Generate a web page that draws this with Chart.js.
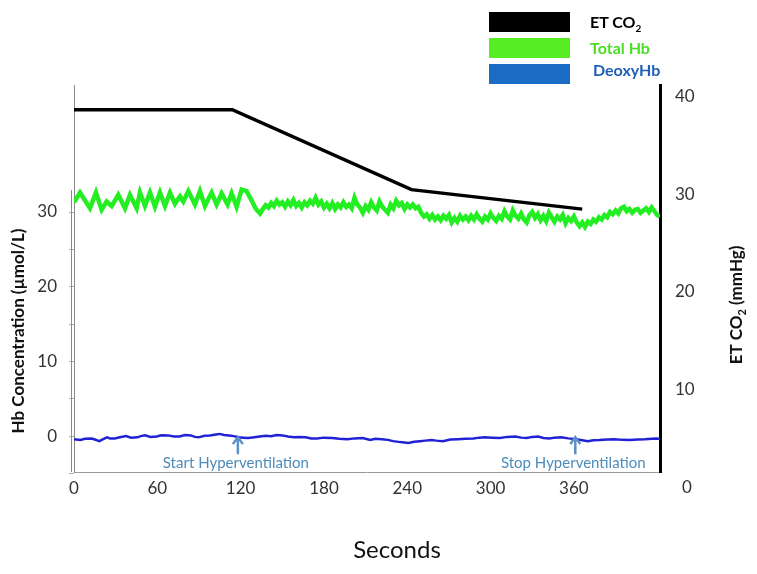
<!DOCTYPE html>
<html>
<head>
<meta charset="utf-8">
<script src="https://cdn.jsdelivr.net/npm/chart.js@4"></script>
<style>
body{margin:0;background:#fff;}
#wrap{position:relative;width:757px;height:574px;}
.key{position:absolute;left:489px;width:81px;height:20px;}
.lbl{position:absolute;font-family:Lato,sans-serif;font-weight:bold;font-size:16px;line-height:20px;}
.lbl sub{font-size:10px;line-height:0;}
</style>
</head>
<body>
<div id="wrap">
  <canvas id="myChart" width="757" height="574"></canvas>
  <div class="key" style="top:12px;background:#000;"></div>
  <div class="key" style="top:38px;background:#55ee22;"></div>
  <div class="key" style="top:64px;background:#1a6cc4;"></div>
  <div class="lbl" style="left:590px;top:12px;color:#000;">ET CO<sub>2</sub></div>
  <div class="lbl" style="left:590px;top:38px;color:#4bdc26;">Total Hb</div>
  <div class="lbl" style="left:593px;top:60px;color:#1f5fb8;">DeoxyHb</div>
</div>
<script>
var xTicks = [0, 60, 120, 180, 240, 300, 360];
var hbTicks = [-5, 0, 5, 10, 15, 20, 25, 30];
var co2Ticks = [10, 20, 30, 40];

// end tidal CO2 (mmHg), right axis
var co2Times = [0, 114, 243, 366];
var etCo2 = [38.7, 38.7, 30.5, 28.5];

// total Hb (umol/L), left axis
var hbTimes = [
  0, 4.3, 11.5, 15.8, 19.9, 23.5, 27.1, 31.9, 36.7, 40.3,
  45.1, 47.5, 51.1, 54.7, 58.3, 61.9, 65.5, 69.1, 72.7, 76.3,
  78.7, 82.3, 87.1, 90.7, 94.3, 99.1, 102.7, 106.3, 110.6, 113.5,
  117.1, 120.7, 124.3, 128, 131, 134, 136, 138, 140, 142,
  144, 146, 148, 150, 152, 154, 156, 158, 160, 162,
  164, 166, 168, 170, 172, 174, 176, 178, 180, 182,
  184, 186, 188, 190, 192, 194, 196, 198, 200, 202,
  204, 206, 208, 210, 212, 214, 216, 218, 220, 222,
  224, 226, 228, 230, 232, 234, 236, 238, 240, 242,
  244, 246, 248, 250, 252, 254, 256, 258, 260, 262,
  264, 266, 268, 270, 272, 274, 276, 278, 280, 282,
  284, 286, 288, 290, 292, 294, 296, 298, 300, 302,
  304, 306, 308, 310, 312, 314, 316, 318, 320, 322,
  324, 326, 328, 330, 332, 334, 336, 338, 340, 342,
  344, 346, 348, 350, 352, 354, 356, 358, 360, 362,
  364, 366, 368, 370, 372, 374, 376, 378, 380, 382,
  384, 386, 388, 390, 392, 394, 396, 398, 400, 402,
  404, 406, 408, 410, 412, 414, 416, 418, 420, 422
];
var totalHb = [
  31.3, 32.6, 30.5, 32.6, 30.3, 31.4, 30.8, 32.3, 30.5, 32.3,
  30.5, 32.6, 30.8, 32.6, 30.7, 32.6, 30.8, 32.6, 31.1, 32.1,
  31.4, 32.8, 31.0, 32.8, 30.8, 32.6, 31.0, 32.5, 31.0, 32.5,
  30.7, 33.0, 32.8, 31.5, 30.4, 29.8, 30.4, 30.9, 30.6, 31.2,
  30.8, 31.5, 31.0, 31.3, 30.7, 31.4, 30.9, 31.6, 30.8, 31.2,
  30.6, 31.3, 30.9, 31.5, 31.1, 31.9, 31.0, 31.4, 30.6, 31.1,
  30.5, 31.2, 30.4, 31.0, 30.6, 31.3, 30.7, 31.0, 30.5, 31.9,
  31.0, 30.6, 29.9, 30.8, 30.3, 31.3, 30.6, 30.2, 31.4, 30.7,
  30.3, 29.9, 31.0, 30.5, 31.5, 30.9, 31.2, 30.4, 31.0, 30.6,
  31.0, 30.5, 30.7, 29.9, 29.4, 29.7, 29.1, 29.6, 29.0, 29.4,
  28.9, 29.5, 29.1, 29.6, 28.6, 29.2, 28.7, 29.5, 29.0, 29.4,
  28.9, 29.5, 29.0, 29.7, 29.1, 28.7, 29.4, 29.0, 29.8, 29.2,
  28.8, 29.5, 29.1, 30.1, 29.4, 29.0, 30.2, 29.5, 29.1, 29.8,
  29.0, 28.6, 29.6, 30.0, 29.2, 29.7, 28.9, 29.5, 28.8, 29.9,
  29.3, 28.7, 29.4, 29.0, 29.6, 28.5, 29.2, 28.8, 29.4, 28.6,
  28.1, 28.6, 28.0, 28.7, 28.4, 29.0, 28.7, 29.3, 29.0, 29.6,
  29.3, 30.0, 29.7, 30.2, 29.8, 30.5, 30.7, 30.1, 30.4, 29.9,
  30.3, 30.4, 29.9, 30.2, 30.5, 30.0, 30.6, 30.1, 29.6, 29.4
];

// deoxy Hb (umol/L), left axis
var deoxyTimes = [
  0, 4.5, 8, 12.8, 15, 18.3, 21, 23.7, 26, 29.3,
  33, 37.5, 41, 45.7, 48, 51.2, 55, 59.5, 63, 67.7,
  72, 76, 80, 84.2, 87, 89.7, 94, 97.9, 101, 104.8,
  108, 111.7, 115, 118.6, 122, 125.4, 130, 133.7, 138, 141.9,
  146, 150.2, 154, 158.4, 162, 166.7, 171, 174.9, 180, 185.9,
  191, 196.8, 202, 207.9, 213.3, 217, 221.6, 226, 229.8, 235,
  240.8, 245, 249.1, 253, 257.3, 261, 265.6, 271, 276.5, 282,
  287.5, 292, 295.8, 301, 306.8, 312, 317.8, 322, 326, 330,
  334.3, 338, 342.5, 346, 350.8, 356, 361.8, 366, 370, 374,
  378.3, 384, 389.2, 395, 400.2, 406, 411.2, 416, 419.4, 422
];
var deoxyHb = [
  -0.41, -0.52, -0.35, -0.31, -0.45, -0.67, -0.4, -0.16, -0.3, -0.31,
  -0.15, 0.0, -0.2, -0.16, 0.0, 0.10, -0.1, -0.05, 0.12, 0.10,
  -0.05, -0.05, 0.15, 0.10, -0.1, -0.16, 0.05, 0.10, 0.2, 0.30,
  0.15, 0.10, 0.0, -0.16, -0.2, -0.26, -0.15, -0.05, 0.05, 0.0,
  0.15, 0.10, -0.05, -0.16, -0.1, -0.16, -0.3, -0.31, -0.2, -0.26,
  -0.35, -0.41, -0.3, -0.26, -0.52, -0.35, -0.41, -0.5, -0.67, -0.8,
  -0.92, -0.75, -0.67, -0.6, -0.52, -0.6, -0.67, -0.45, -0.41, -0.35,
  -0.31, -0.2, -0.16, -0.2, -0.26, -0.1, -0.05, -0.2, -0.26, -0.1,
  -0.05, -0.25, -0.31, -0.2, -0.16, -0.3, -0.41, -0.55, -0.67, -0.55,
  -0.52, -0.45, -0.41, -0.5, -0.52, -0.45, -0.41, -0.35, -0.31, -0.35
];

var notes = [
  {t: 118, text: "Start Hyperventilation"},
  {t: 361, text: "Stop Hyperventilation"}
];

function pairs(ts, vs){
  return ts.map(function(t, i){ return {x: t, y: vs[i]}; });
}

var tickFont = {family: "Lato", size: 17};

var extras = {
  id: "extras",
  afterDraw: function(c){
    var ctx = c.ctx;
    var xs = c.scales.x, ys = c.scales.y, y2 = c.scales.y2;
    var area = c.chartArea;
    ctx.save();

    // second thin line on the left
    ctx.strokeStyle = "#8a8a8a";
    ctx.lineWidth = 1;
    ctx.beginPath();
    ctx.moveTo(71.5, 190);
    ctx.lineTo(71.5, area.bottom);
    ctx.stroke();

    // right axis zero label
    ctx.fillStyle = "#333";
    ctx.font = "17px Lato";
    ctx.textAlign = "left";
    ctx.textBaseline = "middle";
    ctx.fillText("0", 682, y2.getPixelForValue(0));

    // annotations
    notes.forEach(function(n){
      var px = xs.getPixelForValue(n.t);
      var tip = ys.getPixelForValue(0) + 1;
      ctx.strokeStyle = "#5b8fc6";
      ctx.lineWidth = 2.5;
      ctx.beginPath();
      ctx.moveTo(px, tip + 17);
      ctx.lineTo(px, tip);
      ctx.moveTo(px - 5, tip + 7);
      ctx.lineTo(px, tip);
      ctx.lineTo(px + 5, tip + 7);
      ctx.stroke();
      ctx.fillStyle = "#4d8cba";
      ctx.font = "15px Lato";
      ctx.textAlign = "center";
      ctx.fillText(n.text, px - 2, area.bottom - 9);
    });

    // axis titles
    ctx.fillStyle = "#111";
    ctx.font = "24px Lato";
    ctx.textAlign = "center";
    ctx.fillText("Seconds", 397, 550);

    ctx.font = "bold 17px Lato";
    ctx.save();
    ctx.translate(19, 331);
    ctx.rotate(-Math.PI / 2);
    ctx.fillText("Hb Concentration (\u00b5mol/L)", 0, 0);
    ctx.restore();

    ctx.save();
    ctx.translate(737, 305);
    ctx.rotate(-Math.PI / 2);
    ctx.textAlign = "left";
    var a = "ET CO", b = "2", d = " (mmHg)";
    ctx.font = "bold 17px Lato";
    var wa = ctx.measureText(a).width, wd = ctx.measureText(d).width;
    ctx.font = "bold 11px Lato";
    var wb = ctx.measureText(b).width;
    var x0 = -(wa + wb + wd) / 2;
    ctx.font = "bold 17px Lato";
    ctx.fillText(a, x0, 0);
    ctx.font = "bold 11px Lato";
    ctx.fillText(b, x0 + wa, 5);
    ctx.font = "bold 17px Lato";
    ctx.fillText(d, x0 + wa + wb, 0);
    ctx.restore();

    ctx.restore();
  }
};

new Chart("myChart", {
  type: "line",
  data: {
    datasets: [{
      label: "ET CO2",
      data: pairs(co2Times, etCo2),
      yAxisID: "y2",
      borderColor: "#000",
      borderWidth: 3.5,
      pointRadius: 0,
      fill: false
    },{
      label: "Total Hb",
      data: pairs(hbTimes, totalHb),
      yAxisID: "y",
      borderColor: "#22ee22",
      borderWidth: 4.5,
      pointRadius: 0,
      fill: false
    },{
      label: "DeoxyHb",
      data: pairs(deoxyTimes, deoxyHb),
      yAxisID: "y",
      borderColor: "#2121d6",
      borderWidth: 2.5,
      pointRadius: 0,
      fill: false
    }]
  },
  options: {
    responsive: false,
    animation: false,
    layout: {padding: {top: 85, left: 0, right: 0, bottom: 0}},
    plugins: {legend: {display: false}, tooltip: {enabled: false}},
    scales: {
      x: {
        type: "linear",
        min: 0,
        max: 422,
        afterBuildTicks: function(s){ s.ticks = xTicks.map(function(v){ return {value: v}; }); },
        afterFit: function(s){ s.height = 102; },
        grid: {display: false, drawTicks: false},
        border: {color: "#9a9a9a", width: 1},
        ticks: {font: tickFont, color: "#333", padding: 6, maxRotation: 0, autoSkip: false}
      },
      y: {
        position: "left",
        min: -4.8,
        max: 47,
        afterBuildTicks: function(s){ s.ticks = hbTicks.map(function(v){ return {value: v}; }); },
        afterFit: function(s){ s.width = 74; },
        grid: {display: true, drawOnChartArea: false, drawTicks: true, tickLength: 5, color: "#aaa"},
        border: {color: "#8a8a8a", width: 1},
        ticks: {
          font: tickFont, color: "#333", padding: 12, autoSkip: false,
          callback: function(v){ return (v >= 0 && v % 10 === 0) ? v : ""; }
        }
      },
      y2: {
        position: "right",
        min: 1.54,
        max: 41.23,
        afterBuildTicks: function(s){ s.ticks = co2Ticks.map(function(v){ return {value: v}; }); },
        afterFit: function(s){ s.width = 97; },
        grid: {display: false, drawTicks: false},
        border: {color: "#000", width: 3},
        ticks: {font: tickFont, color: "#333", padding: 15, autoSkip: false}
      }
    }
  },
  plugins: [extras]
});
</script>
</body>
</html>
